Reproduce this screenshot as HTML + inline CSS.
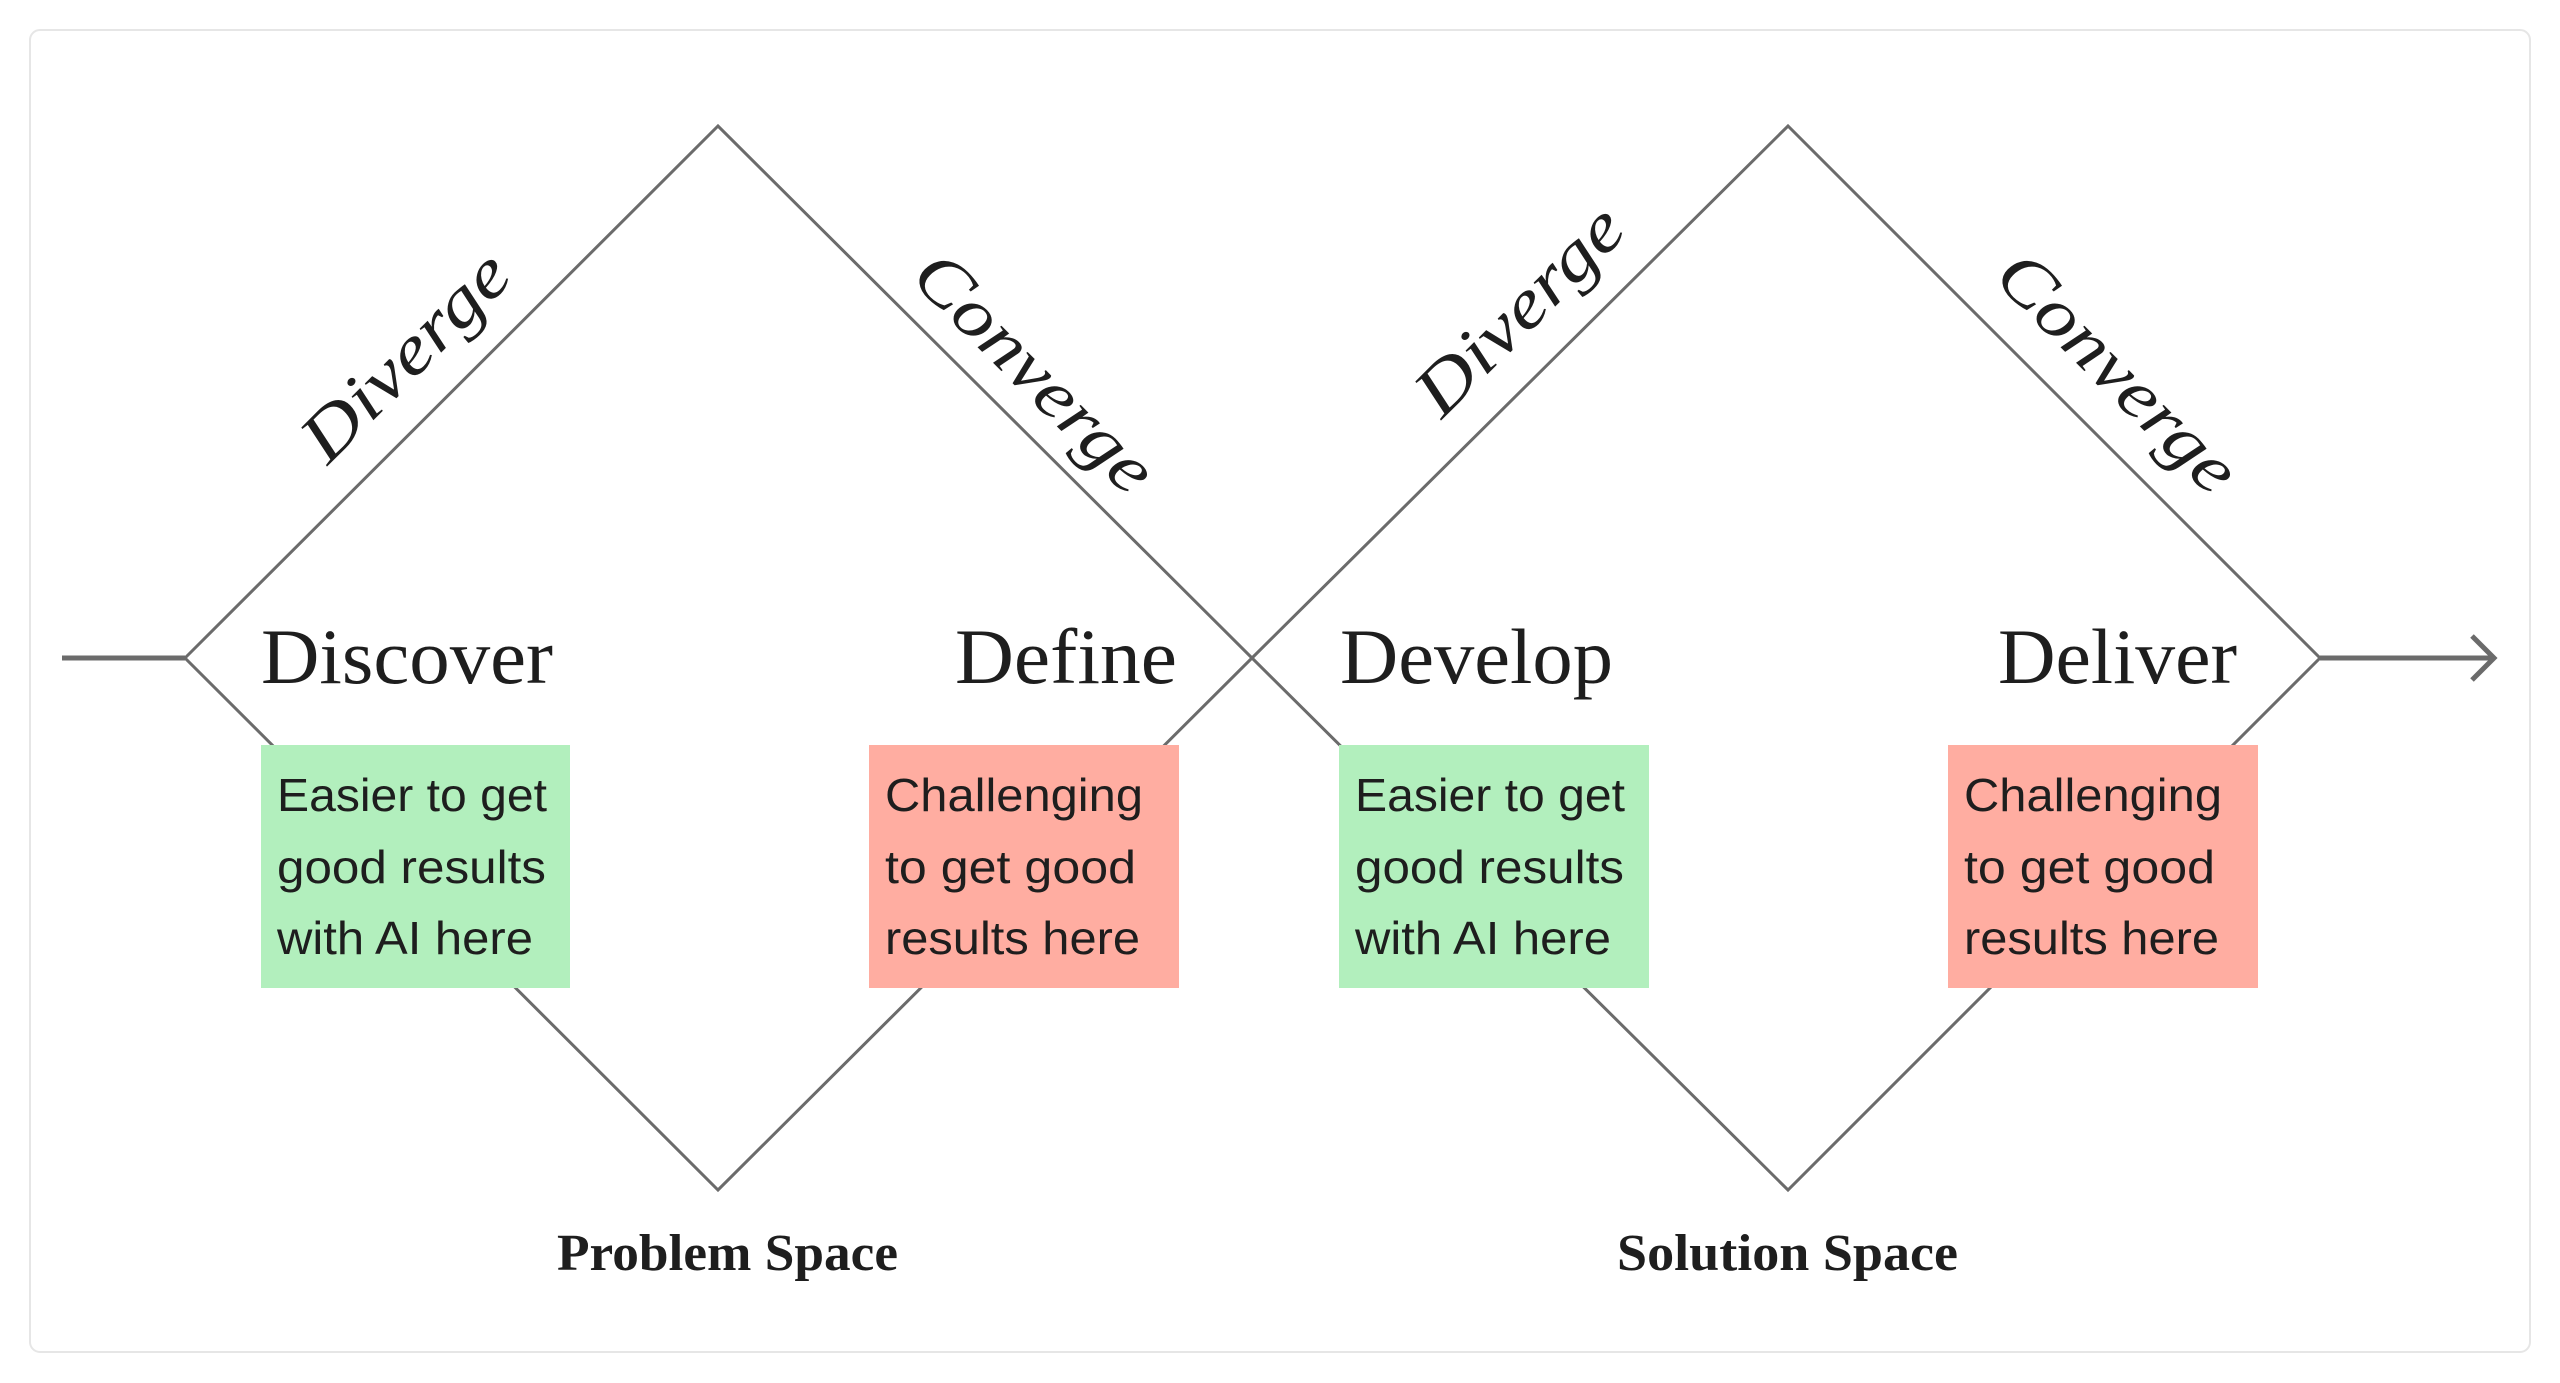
<!DOCTYPE html>
<html><head><meta charset="utf-8"><style>
html,body{margin:0;padding:0;background:#fff;}
svg{display:block}
.ser{font-family:"Liberation Serif","DejaVu Serif",serif;fill:#1e1e1e}
.san{font-family:"Liberation Sans","DejaVu Sans",sans-serif;fill:#1e1e1e;font-size:46px}
</style></head><body>
<svg width="2560" height="1383" viewBox="0 0 2560 1383" xmlns="http://www.w3.org/2000/svg">
<rect x="30" y="30" width="2500" height="1322" rx="10" fill="#fff" stroke="#e6e6e6" stroke-width="2"/>
<g fill="none" stroke="#6b6b6b" stroke-width="3">
<polygon points="185,658 718,126 1252,658 718,1190"/>
<polygon points="1252,658 1788,126 2320,658 1788,1190"/>
</g>
<line x1="62" y1="658" x2="185" y2="658" stroke="#6b6b6b" stroke-width="5"/>
<line x1="2320" y1="658" x2="2494" y2="658" stroke="#6b6b6b" stroke-width="5"/>
<polyline points="2472,636 2494,658 2472,680" fill="none" stroke="#6b6b6b" stroke-width="5"/>
<g class="ser" font-style="italic" font-size="70">
<text transform="translate(410,361) rotate(-45)" text-anchor="middle" dominant-baseline="middle" textLength="265" lengthAdjust="spacingAndGlyphs">Diverge</text>
<text transform="translate(1030,377) rotate(45)" text-anchor="middle" dominant-baseline="middle" textLength="310" lengthAdjust="spacingAndGlyphs">Converge</text>
<text transform="translate(1524,315) rotate(-45)" text-anchor="middle" dominant-baseline="middle" textLength="265" lengthAdjust="spacingAndGlyphs">Diverge</text>
<text transform="translate(2113,377) rotate(45)" text-anchor="middle" dominant-baseline="middle" textLength="310" lengthAdjust="spacingAndGlyphs">Converge</text>
</g>
<g class="ser" font-size="78">
<text x="261" y="683" textLength="292" lengthAdjust="spacingAndGlyphs">Discover</text>
<text x="955" y="683" textLength="222" lengthAdjust="spacingAndGlyphs">Define</text>
<text x="1340" y="683" textLength="273" lengthAdjust="spacingAndGlyphs">Develop</text>
<text x="1998" y="683" textLength="239" lengthAdjust="spacingAndGlyphs">Deliver</text>
</g>
<rect x="261" y="745" width="309" height="243" fill="#b2efbd"/>
<rect x="869" y="745" width="310" height="243" fill="#ffada1"/>
<rect x="1339" y="745" width="310" height="243" fill="#b2efbd"/>
<rect x="1948" y="745" width="310" height="243" fill="#ffada1"/>
<g class="san">
<text x="277" y="811" textLength="270" lengthAdjust="spacingAndGlyphs">Easier to get</text><text x="277" y="883" textLength="269" lengthAdjust="spacingAndGlyphs">good results</text><text x="277" y="954" textLength="256" lengthAdjust="spacingAndGlyphs">with AI here</text>
<text x="885" y="811" textLength="258" lengthAdjust="spacingAndGlyphs">Challenging</text><text x="885" y="883" textLength="251" lengthAdjust="spacingAndGlyphs">to get good</text><text x="885" y="954" textLength="255" lengthAdjust="spacingAndGlyphs">results here</text>
<text x="1355" y="811" textLength="270" lengthAdjust="spacingAndGlyphs">Easier to get</text><text x="1355" y="883" textLength="269" lengthAdjust="spacingAndGlyphs">good results</text><text x="1355" y="954" textLength="256" lengthAdjust="spacingAndGlyphs">with AI here</text>
<text x="1964" y="811" textLength="258" lengthAdjust="spacingAndGlyphs">Challenging</text><text x="1964" y="883" textLength="251" lengthAdjust="spacingAndGlyphs">to get good</text><text x="1964" y="954" textLength="255" lengthAdjust="spacingAndGlyphs">results here</text>
</g>
<g class="ser" font-weight="bold" font-size="52">
<text x="557" y="1270" textLength="341" lengthAdjust="spacingAndGlyphs">Problem Space</text>
<text x="1617" y="1270" textLength="341" lengthAdjust="spacingAndGlyphs">Solution Space</text>
</g>
</svg>
</body></html>
